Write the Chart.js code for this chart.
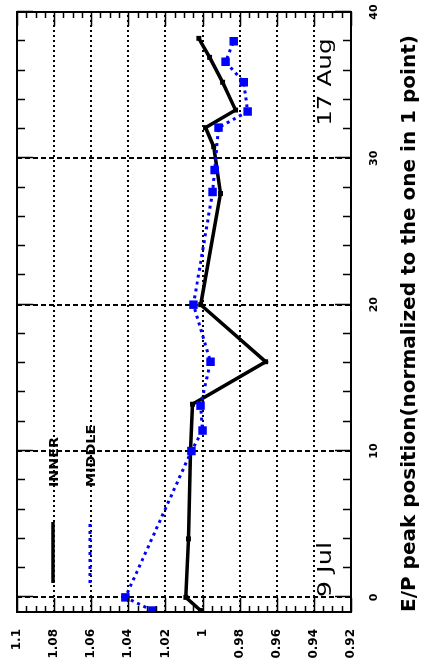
<!DOCTYPE html>
<html><head><meta charset="utf-8">
<script src="https://cdn.jsdelivr.net/npm/chart.js@4"></script>
<style>
html,body{margin:0;padding:0;background:#fff;overflow:hidden;width:430px;height:666px;}
#wrap{position:absolute;left:0;top:0;width:666px;height:430px;transform-origin:0 0;transform:translate(0,666px) rotate(-90deg);background:#fff;}
canvas{display:block;}
</style></head><body>
<div id="wrap"><canvas id="c" width="666" height="430"></canvas></div>
<script>
// ---- data (days since 9 Jul, normalized E/P peak position) ----
const innerDays   = [-0.9, 0, 4, 10, 13.2, 16.1, 20.0, 27.6, 30.8, 32.1, 33.3, 35.2, 36.9, 38.2];
const innerValues = [1.001, 1.009, 1.0076, 1.0065, 1.0054, 0.966, 1.001, 0.9903, 0.994, 0.9984, 0.9822, 0.9892, 0.9962, 1.002];
const middleDays   = [-0.9, 0, 10.0, 11.4, 13.1, 16.1, 20.0, 27.7, 29.2, 32.1, 33.2, 35.2, 36.6, 38.0];
const middleValues = [1.027, 1.0416, 1.006, 1.0, 1.0011, 0.9957, 1.0049, 0.9946, 0.9935, 0.9914, 0.9757, 0.9778, 0.9876, 0.9832];
const seriesNames = ['INNER', 'MIDDLE'];
const dayTicks = [0, 10, 20, 30, 40];
const dayTickLabels = ['0', '10', '20', '30', '40'];
const valueTicks = [1.1, 1.08, 1.06, 1.04, 1.02, 1.0, 0.98, 0.96, 0.94, 0.92];
const valueTickLabels = ['1.1', '1.08', '1.06', '1.04', '1.02', '1', '0.98', '0.96', '0.94', '0.92'];
const dateLabels = ['9 Jul', '17 Aug'];
const dateLabelDays = [0, 38.2];
const axisTitle = 'E/P peak position(normalized to the one in 1 point)';

const FONT = 'DejaVu Sans';
function pts(xs, ys) { return xs.map((d, i) => ({ x: d, y: ys[i] })); }
function labelFor(list, labels, v) {
  const i = list.findIndex(t => Math.abs(t - v) < 1e-9);
  return i >= 0 ? labels[i] : '';
}
function stretchedText(ctx, text, x, y, sx, align) {
  const w = ctx.measureText(text).width * sx;
  const x0 = align === 'right' ? x - w : x;
  ctx.save();
  ctx.translate(x0, y);
  ctx.scale(sx, 1);
  ctx.textAlign = 'left';
  ctx.fillText(text, 0, 0);
  ctx.restore();
}

const framePlugin = {
  id: 'frame',
  afterDatasetsDraw(chart) {
    const ctx = chart.ctx, xa = chart.scales.x, ya = chart.scales.y;
    const { left, right, top, bottom } = chart.chartArea;
    ctx.save();
    ctx.strokeStyle = '#000';
    ctx.lineWidth = 1.5;
    ctx.setLineDash([]);
    ctx.beginPath();
    for (let d = 0; d <= xa.max + 1e-9; d += 2) {
      const px = Math.round(xa.getPixelForValue(d)) + 0.5;
      const L = d % 10 === 0 ? 16 : 8;
      ctx.moveTo(px, top); ctx.lineTo(px, top + L);
      ctx.moveTo(px, bottom); ctx.lineTo(px, bottom - L);
    }
    for (let k = 0; k <= 36; k++) {
      const v = ya.min + k * 0.005;
      const py = Math.round(ya.getPixelForValue(v)) + 0.5;
      const L = k % 4 === 0 ? 14 : 6;
      ctx.moveTo(left, py); ctx.lineTo(left + L, py);
      ctx.moveTo(right, py); ctx.lineTo(right - L, py);
    }
    ctx.stroke();
    ctx.lineWidth = 2;
    ctx.strokeRect(left, top, right - left, bottom - top);

    // legend
    const ds = chart.data.datasets;
    ctx.font = 'bold 13px "' + FONT + '"';
    ctx.textBaseline = 'middle';
    ctx.fillStyle = '#000';
    ds.forEach((d, i) => {
      const y = top + 36 + i * 37;
      ctx.save();
      ctx.strokeStyle = d.borderColor;
      ctx.lineWidth = d.borderWidth;
      ctx.setLineDash(d.borderDash || []);
      ctx.beginPath();
      ctx.moveTo(left + 29, y); ctx.lineTo(left + 90, y);
      ctx.stroke();
      ctx.restore();
      stretchedText(ctx, d.label, left + 125, y + 2, 1.1, 'left');
    });

    // date annotations
    ctx.font = '19px "' + FONT + '"';
    ctx.textBaseline = 'alphabetic';
    const yb = ya.getPixelForValue(0.931);
    stretchedText(ctx, dateLabels[0], xa.getPixelForValue(dateLabelDays[0]), yb, 1.35, 'left');
    stretchedText(ctx, dateLabels[1], xa.getPixelForValue(dateLabelDays[1]), yb, 1.3, 'right');
    ctx.restore();
  }
};

new Chart(document.getElementById('c'), {
  type: 'scatter',
  data: {
    datasets: [
      { label: seriesNames[0], data: pts(innerDays, innerValues), showLine: true,
        borderColor: '#000000', backgroundColor: '#000000', borderWidth: 3.5,
        pointStyle: 'rect', pointRadius: 3.5, pointBorderWidth: 0, order: 2, clip: 0 },
      { label: seriesNames[1], data: pts(middleDays, middleValues), showLine: true,
        borderColor: '#0000ff', backgroundColor: '#0000ff', borderWidth: 3, borderDash: [3, 4],
        pointStyle: 'rect', pointRadius: 6, pointBorderWidth: 0, order: 1, clip: 0 }
    ]
  },
  options: {
    responsive: false, animation: false, devicePixelRatio: 1,
    layout: { padding: { left: 0, right: 12, top: 17, bottom: 0 } },
    plugins: { legend: { display: false }, tooltip: { enabled: false } },
    scales: {
      x: {
        type: 'linear', position: 'bottom', min: -1, max: 40,
        afterBuildTicks: s => { s.ticks = dayTicks.map(v => ({ value: v })); },
        afterFit: s => { s.height = 79; s.paddingLeft = 0; s.paddingRight = 0; },
        ticks: { padding: 17, color: '#000', maxRotation: 0, autoSkip: false,
          font: { family: FONT, weight: 'bold', size: 11 },
          callback: v => labelFor(dayTicks, dayTickLabels, v) },
        grid: { drawTicks: false, color: '#000', lineWidth: 2 },
        border: { display: false, dash: [5, 3] },
        title: { display: true, text: axisTitle, color: '#000', align: 'start',
          font: { family: FONT, weight: 'bold', size: 20 }, padding: { top: 0, bottom: 8 } }
      },
      y: {
        type: 'linear', position: 'left', min: 0.92, max: 1.1,
        afterBuildTicks: s => { s.ticks = valueTicks.map(v => ({ value: v })); },
        afterFit: s => { s.width = 54; s.paddingTop = 0; s.paddingBottom = 0; },
        ticks: { padding: 17, color: '#000', autoSkip: false,
          font: { family: FONT, weight: 'bold', size: 12 },
          callback: v => labelFor(valueTicks, valueTickLabels, v) },
        grid: { drawTicks: false, color: '#000', lineWidth: 2 },
        border: { display: false, dash: [2, 3] }
      }
    }
  },
  plugins: [framePlugin]
});
</script>
</body></html>
